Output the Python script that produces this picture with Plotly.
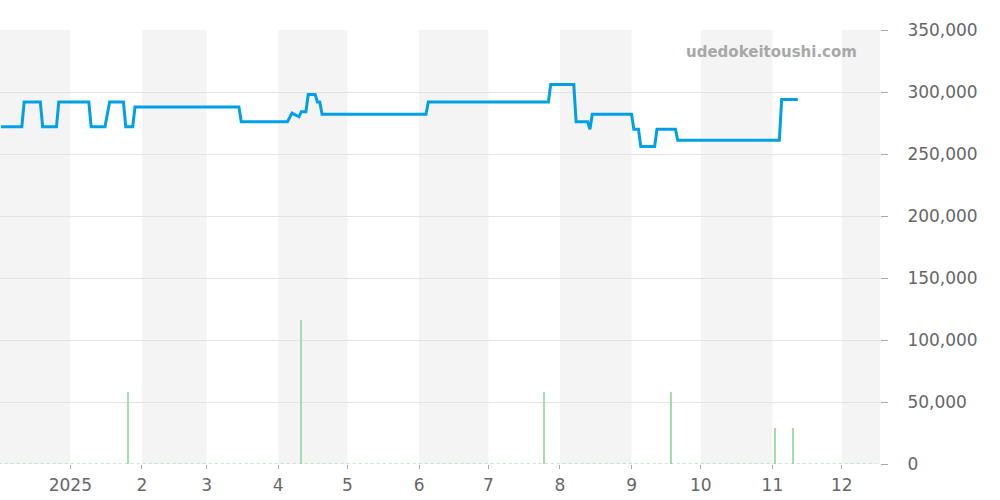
import plotly.graph_objects as go

# Price series (change points)
price_dates = [
    "2024-12-02", "2024-12-11", "2024-12-12", "2024-12-19", "2024-12-20", "2024-12-26",
    "2024-12-27", "2025-01-09", "2025-01-10", "2025-01-16", "2025-01-18", "2025-01-24",
    "2025-01-25", "2025-01-28", "2025-01-29", "2025-03-15", "2025-03-16", "2025-04-05",
    "2025-04-07", "2025-04-08", "2025-04-10", "2025-04-11", "2025-04-13", "2025-04-14",
    "2025-04-17", "2025-04-18", "2025-04-19", "2025-04-20", "2025-06-04", "2025-06-05",
    "2025-07-27", "2025-07-28", "2025-08-07", "2025-08-08", "2025-08-13", "2025-08-14",
    "2025-08-15", "2025-09-01", "2025-09-02", "2025-09-04", "2025-09-05", "2025-09-11",
    "2025-09-12", "2025-09-20", "2025-09-21", "2025-11-04", "2025-11-05", "2025-11-12",
]
price_values = [
    272000, 272000, 292000, 292000, 272000, 272000,
    292000, 292000, 272000, 272000, 292000, 292000,
    272000, 272000, 288000, 288000, 276000, 276000,
    283000, 282000, 280000, 284000, 284000, 298000,
    298000, 292000, 292000, 282000, 282000, 292000,
    292000, 306000, 306000, 276000, 276000, 270000,
    282000, 282000, 270000, 270000, 256000, 256000,
    270000, 270000, 261000, 261000, 294000, 294000,
]

# Volume series
volume_dates = ["2025-01-26", "2025-04-11", "2025-07-25", "2025-09-18", "2025-11-02", "2025-11-10"]
volume_values = [58000, 116000, 58000, 58000, 29000, 29000]
baseline_dates = ["2024-12-01", "2025-12-16"]
baseline_values = [0, 0]

# Axis ticks
tick_dates = ["2025-01-01", "2025-02-01", "2025-03-01", "2025-04-01", "2025-05-01", "2025-06-01",
              "2025-07-01", "2025-08-01", "2025-09-01", "2025-10-01", "2025-11-01", "2025-12-01"]
tick_labels = ["2025", "2", "3", "4", "5", "6", "7", "8", "9", "10", "11", "12"]

# Shaded month bands
band_starts = ["2024-11-01", "2025-02-01", "2025-04-01", "2025-06-01", "2025-08-01", "2025-10-01", "2025-12-01"]
band_ends = ["2025-01-01", "2025-03-01", "2025-05-01", "2025-07-01", "2025-09-01", "2025-11-01", "2026-01-01"]

fig = go.Figure()

fig.add_trace(go.Scatter(
    x=baseline_dates, y=baseline_values, mode="lines",
    line=dict(color="#8fd096", width=1, dash="dot"), hoverinfo="skip",
))
fig.add_trace(go.Bar(
    x=volume_dates, y=volume_values, width=[75000000] * len(volume_dates),
    marker=dict(color="#a5dcaa", line=dict(width=0)),
))
fig.add_trace(go.Scatter(
    x=price_dates, y=price_values, mode="lines",
    line=dict(color="#00a0e9", width=3),
))

for s, e in zip(band_starts, band_ends):
    fig.add_shape(type="rect", xref="x", yref="paper", x0=s, x1=e, y0=0, y1=1,
                  fillcolor="#f4f4f4", line=dict(width=0), layer="below")

fig.add_annotation(
    text="<b>udedokeitoushi.com</b>", xref="paper", yref="paper",
    x=0.976, y=0.949, xanchor="right", yanchor="middle", showarrow=False,
    font=dict(family="DejaVu Sans", size=15, color="#a8a8a8"),
)

fig.update_layout(
    width=1000, height=500,
    margin=dict(l=0, r=120, t=30, b=36),
    paper_bgcolor="white", plot_bgcolor="white",
    showlegend=False,
    font=dict(family="DejaVu Sans", size=17, color="#666666"),
    xaxis=dict(
        type="date", range=["2024-12-01 13:00", "2025-12-17 14:00"],
        tickvals=tick_dates, ticktext=tick_labels,
        ticks="outside", ticklen=4, tickcolor="#aaaaaa",
        showgrid=False, zeroline=False, showline=False,
        ticklabelstandoff=2,
        tickfont=dict(size=17, color="#666666"),
    ),
    yaxis=dict(
        side="right", range=[0, 350000], dtick=50000, tickformat=",",
        ticks="outside", ticklen=7, tickcolor="#aaaaaa",
        showgrid=True, gridcolor="#e3e3e3", zeroline=False, showline=False,
        ticklabelstandoff=16,
        tickfont=dict(size=17, color="#666666"),
    ),
    bargap=0,
)

fig.write_html("out.html", config={"displayModeBar": False},
               post_script="document.body.style.margin='0';")
